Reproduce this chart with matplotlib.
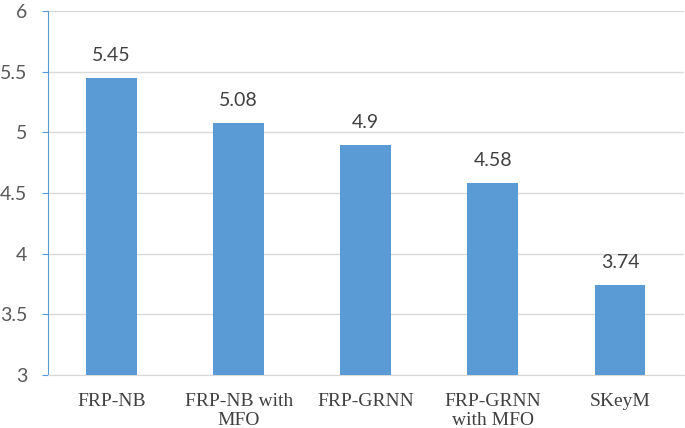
import matplotlib
matplotlib.use("Agg")
from matplotlib import pyplot as plt

categories = ["FRP-NB", "FRP-NB with\nMFO", "FRP-GRNN", "FRP-GRNN\nwith MFO", "SKeyM"]
values = [5.45, 5.08, 4.9, 4.58, 3.74]
value_labels = ["5.45", "5.08", "4.9", "4.58", "3.74"]
yticks = [3, 3.5, 4, 4.5, 5, 5.5, 6]
ytick_labels = ["3", "3.5", "4", "4.5", "5", "5.5", "6"]

bar_color = "#5B9BD5"
grid_color = "#D9D9D9"

fig = plt.figure(figsize=(6.85, 4.28), dpi=100)
ax = fig.add_axes([0.070, 0.124, 0.928, 0.850])

x = list(range(len(categories)))
ax.bar(x, [v - 3 for v in values], bottom=3, width=0.4, color=bar_color, zorder=3)

for xi, v, lab in zip(x, values, value_labels):
    ax.annotate(lab, (xi, v), xytext=(0, 10), textcoords="offset points",
                ha="center", va="bottom", fontsize=14, color="#404040", family="Lato")

ax.set_xlim(-0.5, len(categories) - 0.5)
ax.set_ylim(3, 6)
ax.set_yticks(yticks)
ax.set_yticklabels(ytick_labels, fontsize=14, color="#595959", family="Lato")
ax.set_xticks(x)
ax.set_xticklabels(categories, fontsize=14, color="#404040", family="Liberation Serif",
                   linespacing=1.15)

ax.yaxis.grid(True, color=grid_color, linewidth=1, zorder=0)
ax.tick_params(axis="y", length=4, color=bar_color, pad=11)
ax.tick_params(axis="x", length=0, pad=13)

for side in ["top", "right"]:
    ax.spines[side].set_visible(False)
ax.spines["left"].set_color(bar_color)
ax.spines["bottom"].set_color(grid_color)

plt.savefig("out.png", dpi=100)
